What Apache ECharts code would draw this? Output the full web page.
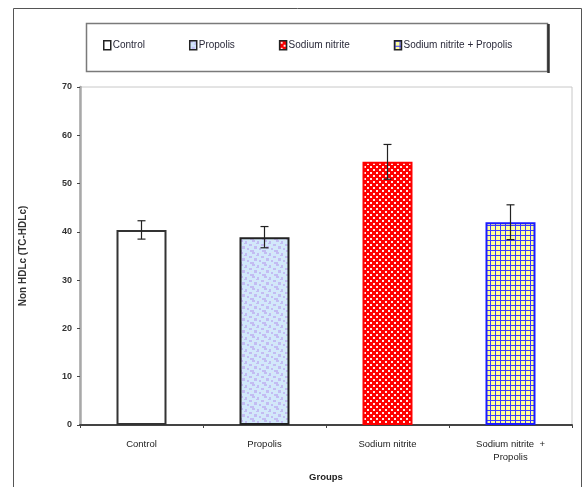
<!DOCTYPE html>
<html>
<head>
<meta charset="utf-8">
<script src="https://cdn.jsdelivr.net/npm/echarts@6/dist/echarts.min.js"></script>
<style>
  html, body { margin: 0; padding: 0; background: #fff; }
  #chart { width: 584px; height: 487px; }
</style>
</head>
<body>
<div id="chart"></div>
<script>
// Groups, means and standard errors of non-HDL cholesterol
const groups = ["Control", "Propolis", "Sodium nitrite", "Sodium nitrite + Propolis"];
const means = [40.4, 38.9, 54.5, 42.0];
const errors = [1.9, 2.2, 3.6, 3.6];
const yTicks = [0, 10, 20, 30, 40, 50, 60, 70];

// Small canvas tiles used as fill textures
function tile(w, h, draw) {
  const c = document.createElement("canvas");
  c.width = w; c.height = h;
  draw(c.getContext("2d"));
  return { image: c, repeat: "repeat" };
}

const mottledBlue = tile(12, 12, g => {
  g.fillStyle = "#d2e8fb"; g.fillRect(0, 0, 12, 12);
  g.fillStyle = "#c3bcf2";
  [[0,0,3,2],[5,1,2,3],[9,4,3,2],[2,6,3,3],[7,8,2,2],[0,10,2,2],[10,10,2,2],[4,3,1,1]]
    .forEach(r => g.fillRect(r[0], r[1], r[2], r[3]));
  g.fillStyle = "#e2e2ea";
  [[8,0,1,1],[1,4,1,1],[6,6,1,1],[11,7,1,1]].forEach(r => g.fillRect(r[0], r[1], r[2], r[3]));
});

const redChecks = tile(6, 6, g => {
  g.fillStyle = "#ff0000"; g.fillRect(0, 0, 6, 6);
  g.fillStyle = "#ffe8e8";
  g.fillRect(1, 1, 2, 2);
  g.fillRect(4, 4, 2, 2);
});

const blueGrid = tile(5, 5, g => {
  g.fillStyle = "#ffff99"; g.fillRect(0, 0, 5, 5);
  g.fillStyle = "#3a3aff";
  g.fillRect(0, 0, 5, 1);
  g.fillRect(0, 0, 1, 5);
});

const fills = ["#ffffff", mottledBlue, redChecks, blueGrid];
const borders = ["#333333", "#222222", "#ff0000", "#1a1aff"];

const chart = echarts.init(document.getElementById("chart"), null, { renderer: "canvas" });

const barSeries = groups.map((name, i) => ({
  name: name,
  type: "bar",
  barWidth: 50,
  barGap: "-100%",
  data: means.map((v, j) => (j === i ? v : null)),
  itemStyle: { color: fills[i], borderColor: borders[i], borderWidth: 2 },
  z: 2
}));

const errorSeries = {
  type: "custom",
  name: "error",
  data: means.map((m, i) => [i, m - errors[i], m + errors[i]]),
  renderItem: function (params, api) {
    const lo = api.coord([api.value(0), api.value(1)]);
    const hi = api.coord([api.value(0), api.value(2)]);
    const half = 4;
    const st = { stroke: "#222", lineWidth: 1.2 };
    return {
      type: "group",
      children: [
        { type: "line", shape: { x1: hi[0], y1: hi[1], x2: lo[0], y2: lo[1] }, style: st },
        { type: "line", shape: { x1: hi[0] - half, y1: hi[1], x2: hi[0] + half, y2: hi[1] }, style: st },
        { type: "line", shape: { x1: lo[0] - half, y1: lo[1], x2: lo[0] + half, y2: lo[1] }, style: st }
      ]
    };
  },
  z: 5,
  silent: true
};

const font = "Liberation Sans, Arial, sans-serif";

chart.setOption({
  animation: false,
  backgroundColor: "#ffffff",
  graphic: [
    { type: "rect", shape: { x: 13.5, y: 8.5, width: 568, height: 500 },
      style: { fill: "none", stroke: "#555", lineWidth: 1 }, z: -10 },
    { type: "rect", shape: { x: 86.5, y: 23.5, width: 461, height: 48 },
      style: { fill: "#fff", stroke: "#7a7a7a", lineWidth: 1.5 }, z: -5 },
    { type: "line", shape: { x1: 548.5, y1: 24, x2: 548.5, y2: 73 },
      style: { stroke: "#333", lineWidth: 2.5 }, z: -4 }
  ],
  legend: {
    data: groups,
    left: 103,
    top: 40,
    itemGap: 44,
    itemWidth: 7,
    itemHeight: 9,
    padding: 0,
    selectedMode: false,
    icon: "rect",
    itemStyle: { borderColor: "#222", borderWidth: 1.5 },
    textStyle: { fontFamily: font, fontSize: 10, color: "#2a2a3a", padding: [0, 0, 0, -3] }
  },
  grid: {
    left: 80, right: 12, top: 87, bottom: 57,
    show: true, borderColor: "#c8c8c8", borderWidth: 1, backgroundColor: "transparent"
  },
  xAxis: {
    type: "category",
    data: groups,
    axisLine: { lineStyle: { color: "#444", width: 2 } },
    axisTick: { show: true, length: 3, lineStyle: { color: "#444", width: 1 } },
    axisLabel: {
      margin: 13,
      fontFamily: font,
      fontSize: 9.5,
      color: "#222",
      lineHeight: 13,
      formatter: v => v === "Sodium nitrite + Propolis" ? "Sodium nitrite  +\nPropolis" : v
    },
    name: "Groups",
    nameLocation: "middle",
    nameGap: 47,
    nameTextStyle: { fontFamily: font, fontSize: 9.5, color: "#222", fontWeight: "bold" }
  },
  yAxis: {
    type: "value",
    min: yTicks[0],
    max: yTicks[yTicks.length - 1],
    interval: 10,
    splitLine: { show: false },
    axisLine: { show: true, lineStyle: { color: "#a8a8a8", width: 2.5 } },
    axisTick: { show: true, length: 3, lineStyle: { color: "#444" } },
    axisLabel: {
      margin: 8,
      fontFamily: font,
      fontSize: 9,
      fontWeight: "bold",
      color: "#333"
    },
    name: "Non HDLc (TC-HDLc)",
    nameLocation: "middle",
    nameGap: 52,
    nameRotate: 90,
    nameTextStyle: { fontFamily: font, fontSize: 10, color: "#333", fontWeight: "bold" }
  },
  series: barSeries.concat([errorSeries])
});
</script>
</body>
</html>
